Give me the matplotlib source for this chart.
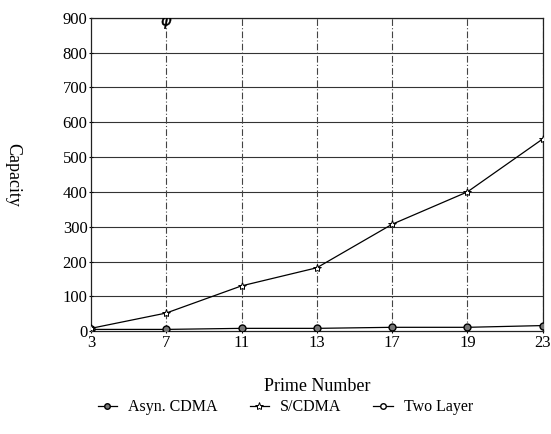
import numpy as np
import matplotlib
matplotlib.use("Agg")
import matplotlib.pyplot as plt
from matplotlib.lines import Line2D

plt.rcParams["font.family"] = ["Liberation Serif", "DejaVu Serif"]

primes = ["3", "7", "11", "13", "17", "19", "23"]
asyn_cdma = [5, 5, 8, 8, 11, 11, 16]
s_cdma = [8, 52, 130, 182, 307, 400, 552]
two_layer = [np.nan, 888, np.nan, np.nan, np.nan, np.nan, np.nan]
y_ticks = list(range(0, 1000, 100))

x = np.arange(len(primes))

fig = plt.figure(figsize=(5.51, 4.34), dpi=100)
ax = fig.add_axes([0.165, 0.237, 0.820, 0.722])

# grid: solid horizontals, dash-dot verticals
for yv in y_ticks[1:]:
    ax.axhline(yv, color="#333333", linewidth=0.8, zorder=1)
for xv in x[1:]:
    ax.axvline(xv, color="#444444", linewidth=0.8, linestyle=(0, (6, 2, 1, 2)), zorder=1)

ax.plot(x, asyn_cdma, color="black", linewidth=0.9, marker="o", markersize=5,
        markerfacecolor="#777777", markeredgecolor="black", zorder=3)
ax.plot(x, s_cdma, color="black", linewidth=0.9, marker="*", markersize=6,
        markerfacecolor="white", markeredgecolor="black", markeredgewidth=0.7, zorder=3)
ax.plot(x, two_layer, color="black", linewidth=0.9, marker="$\\varphi$", markersize=9,
        markeredgewidth=0.3, zorder=3)

ax.set_xlim(0, len(primes) - 1)
ax.set_ylim(0, 900)
ax.set_xticks(x)
ax.set_xticklabels(primes)
ax.set_yticks(y_ticks)
ax.tick_params(axis="both", labelsize=12, length=3, direction="inout", width=0.8, pad=1)
for s in ax.spines.values():
    s.set_linewidth(0.9)
    s.set_color("#222222")

ax.set_xlabel("Prime Number", fontsize=13, labelpad=20)
ax.set_ylabel("Capacity", fontsize=13, rotation=270, labelpad=42, va="bottom")

handles = [
    Line2D([], [], color="black", linewidth=0.9, marker="o", markersize=4,
           markerfacecolor="#777777", markeredgecolor="black"),
    Line2D([], [], color="black", linewidth=0.9, marker="*", markersize=6,
           markerfacecolor="white", markeredgecolor="black", markeredgewidth=0.7),
    Line2D([], [], color="black", linewidth=0.9, marker="o", markersize=4,
           markerfacecolor="white", markeredgecolor="black"),
]
fig.legend(handles, ["Asyn. CDMA", "S/CDMA", "Two Layer"], loc="center",
           bbox_to_anchor=(0.518, 0.062), ncol=3, frameon=False, fontsize=11.5,
           handlelength=1.2, handletextpad=0.7, columnspacing=2.0)

fig.savefig("out.png", dpi=100)
